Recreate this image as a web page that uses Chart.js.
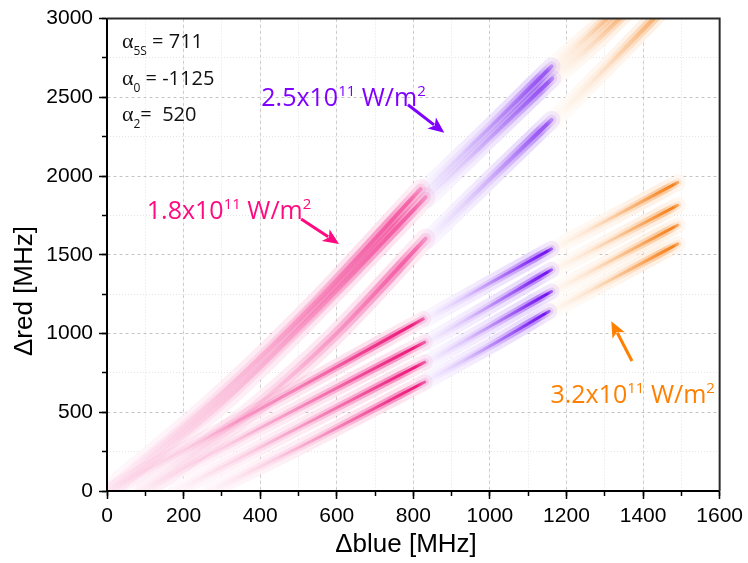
<!DOCTYPE html>
<html>
<head>
<meta charset="utf-8">
<script src="https://cdn.jsdelivr.net/npm/chart.js@4"></script>
<style>
  html, body { margin: 0; padding: 0; background: #fff; }
  #wrap { width: 748px; height: 563px; }
</style>
</head>
<body>
<div id="wrap"><canvas id="chart" width="748" height="563"></canvas></div>
<script>
// Each streak is [Δblue, Δred] in MHz, from the faint start to the bright tip.
// 1.8x10^11 W/m^2
const pinkUpper = [
  [[0, 0], [300, 620], [550, 1210], [819, 1918]],
  [[20, 0], [320, 600], [570, 1200], [832, 1865]],
  [[100, 0], [400, 560], [588, 972], [832, 1603]],
];
const pinkLower = [
  [[0, 0], [400, 520], [826, 1093]],
  [[90, 0], [400, 400], [830, 945]],
  [[180, 0], [450, 340], [830, 818]],
  [[270, 0], [520, 300], [830, 692]],
];
// 2.5x10^11 W/m^2
const purpleUpper = [
  [[830, 1915], [1000, 2310], [1161, 2697]],
  [[838, 1855], [1000, 2240], [1163, 2620]],
  [[838, 1595], [1000, 1980], [1161, 2357]],
];
const purpleLower = [
  [[832, 1090], [1000, 1320], [1161, 1538]],
  [[832, 940], [1000, 1175], [1161, 1405]],
  [[832, 812], [1000, 1045], [1161, 1267]],
  [[828, 690], [1000, 920], [1155, 1141]],
];
// 3.2x10^11 W/m^2
const orangeUpper = [
  [[1160, 2690], [1260, 2900], [1350, 3100]],
  [[1165, 2610], [1280, 2860], [1380, 3100]],
  [[1165, 2350], [1300, 2680], [1460, 3080]],
];
const orangeLower = [
  [[1160, 1530], [1330, 1750], [1491, 1960]],
  [[1160, 1395], [1330, 1610], [1491, 1815]],
  [[1160, 1262], [1330, 1480], [1491, 1689]],
  [[1156, 1135], [1330, 1360], [1491, 1569]],
];

const xTicksStep = 200, yTicksStep = 500;
const xRange = [0, 1600], yRange = [0, 3000];

// polarizability values shown in the corner
const alphaSubs = ["5S", "0", "2"];
const alphaValues = [" = 711", " = -1125", "=  520"];
const alphaX = 39;
const alphaY = [2811, 2578, 2351];

// intensity labels and their arrows (data coords)
const intensityText = ["1.8", "2.5", "3.2"];
const intensityColor = ["#ff0a80", "#7f00ff", "#ff8000"];
const intensityAt = [[104, 1727], [403, 2445], [1158, 561]];
const arrowFrom = [[507, 1727], [786, 2453], [1371, 826]];
const arrowTo = [[606, 1569], [881, 2275], [1317, 1078]];

const styles = {
  pinkUpper:   { rgb: "240,50,140", white: 18, halo: 20, haloA: 0.15, mid: 11, midA: 0.42, core: 4, coreA: 0.6 },
  pinkLower:   { rgb: "236,18,120", white: 14, halo: 16, haloA: 0.13, mid: 8, midA: 0.4, core: 3, coreA: 0.95 },
  purpleUpper: { rgb: "130,50,240", white: 16, halo: 18, haloA: 0.18, mid: 10, midA: 0.4, core: 4, coreA: 0.7 },
  purpleLower: { rgb: "110,10,240", white: 14, halo: 16, haloA: 0.15, mid: 8, midA: 0.4, core: 3, coreA: 0.95 },
  orangeUpper: { rgb: "245,140,50", white: 16, halo: 18, haloA: 0.13, mid: 10, midA: 0.3, core: 4, coreA: 0.55 },
  orangeLower: { rgb: "245,125,20", white: 14, halo: 16, haloA: 0.12, mid: 8, midA: 0.35, core: 3, coreA: 0.95 },
};

const haloStops = [[0, 0.2], [0.5, 0.65], [0.85, 1], [1, 0.5]];
const midStops = [[0, 0.03], [0.5, 0.28], [0.9, 1], [1, 0.3]];
const coreStops = [[0, 0], [0.3, 0.1], [0.7, 0.5], [0.96, 1], [1, 0.6]];

function streakGradient(chart, pts, rgb, stops, a) {
  const xs = chart.scales.x, ys = chart.scales.y;
  const p0 = pts[0], p1 = pts[pts.length - 1];
  const g = chart.ctx.createLinearGradient(
    xs.getPixelForValue(p0[0]), ys.getPixelForValue(p0[1]),
    xs.getPixelForValue(p1[0]), ys.getPixelForValue(p1[1]));
  stops.forEach(([o, al]) => g.addColorStop(o, `rgba(${rgb},${(al * a).toFixed(3)})`));
  return g;
}

function layer(pts, width, color, order) {
  return {
    data: pts.map(p => ({ x: p[0], y: p[1] })),
    showLine: true,
    pointRadius: 0,
    borderWidth: width,
    borderColor: color,
    borderCapStyle: "round",
    borderJoinStyle: "round",
    cubicInterpolationMode: "monotone",
    clip: 0,
    order: order,
  };
}

const datasets = [];
function addGroup(streaks, st) {
  streaks.forEach(pts => {
    const grad = (stops, a) => ctx =>
      ctx.chart.chartArea ? streakGradient(ctx.chart, pts, st.rgb, stops, a) : "transparent";
    datasets.push(layer(pts, st.white, "#ffffff", 3));
    datasets.push(layer(pts, st.halo, grad(haloStops, st.haloA), 2));
    datasets.push(layer(pts, st.mid, grad(midStops, st.midA), 1));
    datasets.push(layer(pts, st.core, grad(coreStops, st.coreA), 0));
  });
}
addGroup(pinkUpper, styles.pinkUpper);
addGroup(pinkLower, styles.pinkLower);
addGroup(purpleUpper, styles.purpleUpper);
addGroup(purpleLower, styles.purpleLower);
addGroup(orangeUpper, styles.orangeUpper);
addGroup(orangeLower, styles.orangeLower);

const tickFont = { family: "'Liberation Sans', Arial, sans-serif", size: 21 };
const plainTick = v => String(v);

function drawRuns(ctx, x, y, runs) {
  runs.forEach(r => {
    ctx.font = r.font;
    ctx.fillStyle = r.color;
    ctx.fillText(r.text, x, y + (r.dy || 0));
    x += ctx.measureText(r.text).width;
  });
}

function drawArrow(ctx, x0, y0, x1, y1, color) {
  const ang = Math.atan2(y1 - y0, x1 - x0);
  const head = 16, half = 7;
  const bx = x1 - head * Math.cos(ang), by = y1 - head * Math.sin(ang);
  ctx.strokeStyle = color;
  ctx.fillStyle = color;
  ctx.lineWidth = 3;
  ctx.beginPath();
  ctx.moveTo(x0, y0);
  ctx.lineTo(bx + 3 * Math.cos(ang), by + 3 * Math.sin(ang));
  ctx.stroke();
  ctx.beginPath();
  ctx.moveTo(x1, y1);
  ctx.lineTo(bx + half * Math.sin(ang), by - half * Math.cos(ang));
  ctx.lineTo(bx + 4 * Math.cos(ang), by + 4 * Math.sin(ang));
  ctx.lineTo(bx - half * Math.sin(ang), by + half * Math.cos(ang));
  ctx.closePath();
  ctx.fill();
}

const annotations = {
  id: "annotations",
  afterDraw(chart) {
    const { ctx, chartArea: a } = chart;
    const xs = chart.scales.x, ys = chart.scales.y;
    const X = v => xs.getPixelForValue(v), Y = v => ys.getPixelForValue(v);
    ctx.save();

    // frame on top and right
    ctx.strokeStyle = "#2a2a2a";
    ctx.lineWidth = 2;
    ctx.beginPath();
    ctx.moveTo(a.left, a.top);
    ctx.lineTo(a.right, a.top);
    ctx.lineTo(a.right, a.bottom);
    ctx.stroke();

    ctx.textBaseline = "alphabetic";
    ctx.textAlign = "left";
    const sans = "'Open Sans', sans-serif";

    alphaY.forEach((yv, i) => {
      drawRuns(ctx, X(alphaX), Y(yv), [
        { text: "\u03b1", font: "22px 'Liberation Serif', serif", color: "#111" },
        { text: alphaSubs[i], font: `12px ${sans}`, color: "#111", dy: 7 },
        { text: alphaValues[i], font: `20px ${sans}`, color: "#111" },
      ]);
    });

    intensityText.forEach((t, i) => {
      const c = intensityColor[i];
      drawRuns(ctx, X(intensityAt[i][0]), Y(intensityAt[i][1]), [
        { text: t + "x10", font: `25px ${sans}`, color: c },
        { text: "11", font: `15px ${sans}`, color: c, dy: -10 },
        { text: " W/m", font: `25px ${sans}`, color: c },
        { text: "2", font: `15px ${sans}`, color: c, dy: -10 },
      ]);
      drawArrow(ctx, X(arrowFrom[i][0]), Y(arrowFrom[i][1]), X(arrowTo[i][0]), Y(arrowTo[i][1]), c);
    });

    // axis titles
    ctx.fillStyle = "#000";
    ctx.font = "26px 'Liberation Sans', Arial, sans-serif";
    ctx.textAlign = "center";
    ctx.textBaseline = "middle";
    ctx.fillText("\u0394blue [MHz]", 406, 545);
    ctx.translate(25, 291);
    ctx.rotate(-Math.PI / 2);
    ctx.fillText("\u0394red [MHz]", 0, 0);
    ctx.restore();
  },
};

new Chart(document.getElementById("chart"), {
  type: "scatter",
  data: { datasets },
  options: {
    responsive: false,
    animation: false,
    events: [],
    layout: { padding: { left: 0, right: 26, top: 15, bottom: 0 } },
    plugins: { legend: { display: false }, tooltip: { enabled: false } },
    scales: {
      x: {
        type: "linear", position: "bottom", min: xRange[0], max: xRange[1],
        ticks: { stepSize: xTicksStep, color: "#000", font: tickFont, padding: 5, maxRotation: 0, callback: plainTick },
        grid: { color: "#c2c2c2", lineWidth: 1, tickLength: 8, tickColor: "#000", tickWidth: 1.5, tickBorderDash: [] },
        border: { color: "#000", width: 2, dash: [3, 3], z: 1 },
        afterFit: s => { s.height = 72; },
      },
      xMinor: {
        type: "linear", position: "bottom", weight: -1, min: xRange[0], max: xRange[1],
        ticks: { stepSize: 100, display: false },
        grid: { color: "#e4e4e4", lineWidth: 1, tickLength: 5, tickColor: "#000", tickWidth: 1.5, tickBorderDash: [] },
        border: { display: false, dash: [1, 2] },
        afterFit: s => { s.height = 0; },
      },
      y: {
        type: "linear", position: "left", min: yRange[0], max: yRange[1],
        ticks: { stepSize: yTicksStep, color: "#000", font: tickFont, padding: 6, callback: plainTick },
        grid: { color: "#c2c2c2", lineWidth: 1, tickLength: 8, tickColor: "#000", tickWidth: 1.5, tickBorderDash: [] },
        border: { color: "#000", width: 2, dash: [3, 3], z: 1 },
        afterFit: s => { s.width = 107; },
      },
      yMinor: {
        type: "linear", position: "left", weight: -1, min: yRange[0], max: yRange[1],
        ticks: { stepSize: 250, display: false },
        grid: { color: "#e4e4e4", lineWidth: 1, tickLength: 5, tickColor: "#000", tickWidth: 1.5, tickBorderDash: [] },
        border: { display: false, dash: [1, 2] },
        afterFit: s => { s.width = 0; },
      },
    },
  },
  plugins: [annotations],
});
</script>
</body>
</html>
